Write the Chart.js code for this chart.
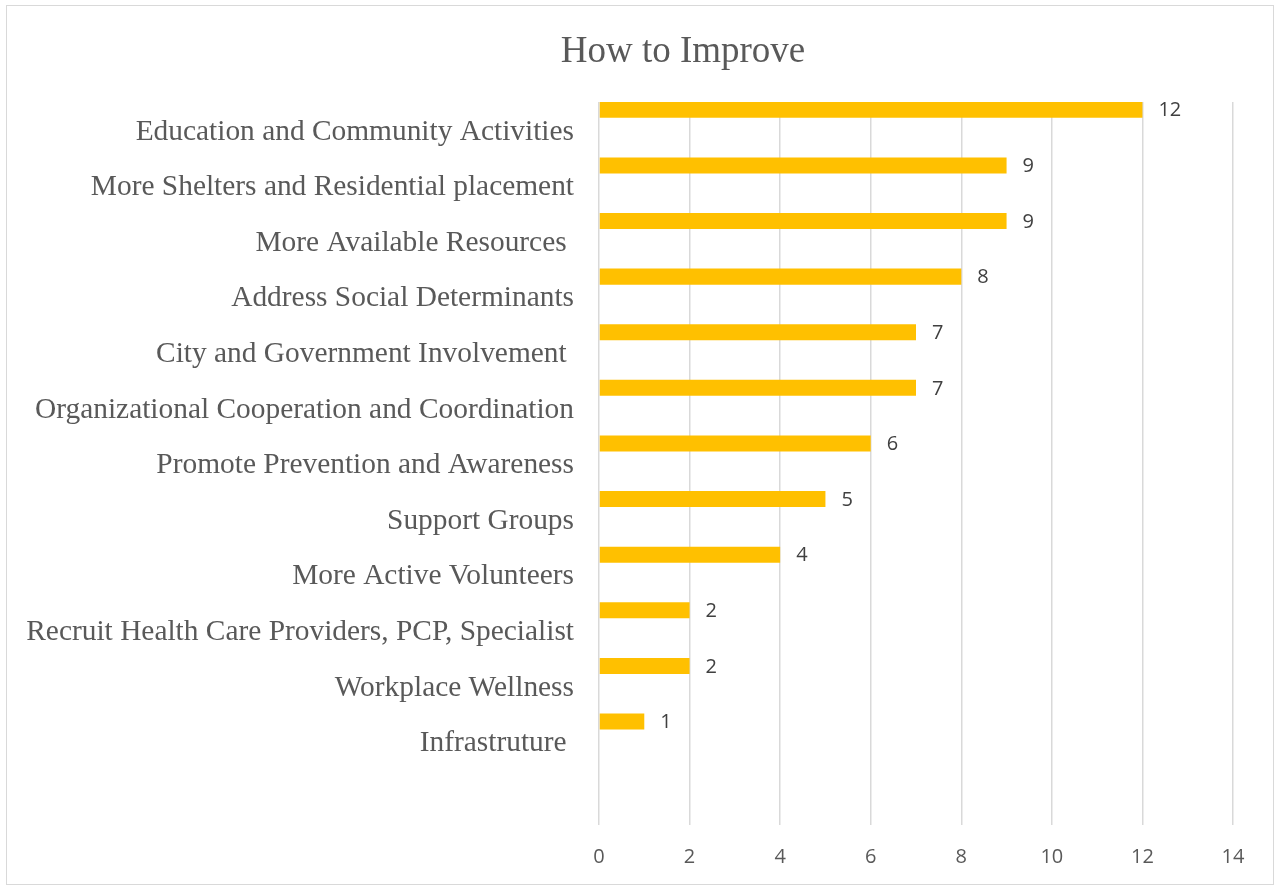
<!DOCTYPE html>
<html>
<head>
<meta charset="utf-8">
<script src="https://cdn.jsdelivr.net/npm/chart.js@4/dist/chart.umd.min.js"></script>
<style>
  html, body { margin: 0; padding: 0; background: #fff; }
  #wrap { position: relative; width: 1276px; height: 886px; }
  #frame { position: absolute; left: 6px; top: 5px; width: 1266px; height: 878px; border: 1px solid #d9d9d9; pointer-events: none; }
</style>
</head>
<body>
<div id="wrap">
  <canvas id="chart" width="1276" height="886"></canvas>
  <div id="frame"></div>
</div>
<script>
// chart data
const chartTitle = 'How to Improve';
const categories = [
  'Education and Community Activities',
  'More Shelters and Residential placement',
  'More Available Resources ',
  'Address Social Determinants',
  'City and Government Involvement ',
  'Organizational Cooperation and Coordination',
  'Promote Prevention and Awareness',
  'Support Groups',
  'More Active Volunteers',
  'Recruit Health Care Providers, PCP, Specialist',
  'Workplace Wellness',
  'Infrastruture '
];
const counts = [12, 9, 9, 8, 7, 7, 6, 5, 4, 2, 2, 1];
const xMin = 0;
const xMax = 14;
const xStep = 2;

// value labels next to each bar end
const valueLabels = {
  id: 'valueLabels',
  afterDatasetsDraw(chart) {
    const ctx = chart.ctx;
    const meta = chart.getDatasetMeta(0);
    ctx.save();
    ctx.font = '20px "Open Sans"';
    ctx.fillStyle = '#404040';
    ctx.textAlign = 'left';
    ctx.textBaseline = 'middle';
    meta.data.forEach((bar, i) => {
      if (counts[i] == null) return;
      ctx.fillText(String(counts[i]), bar.x + 16, bar.y + 1);
    });
    ctx.restore();
  }
};

// the title sits a bit right of the canvas centre in the original
const shiftTitle = {
  id: 'shiftTitle',
  afterLayout(chart) {
    const t = chart.titleBlock;
    if (t) { t.left += 133; }
  }
};

const ctx = document.getElementById('chart');
const chart = new Chart(ctx, {
  type: 'bar',
  data: {
    // an empty slot at the bottom, like the source sheet
    labels: [...categories, ''],
    datasets: [
      {
        label: 'Count',
        data: counts,
        backgroundColor: '#FFC000',
        categoryPercentage: 1.44,
        barPercentage: 0.4
      },
      {
        // empty second series, keeps the bars at the top of each band
        label: 'Series2',
        data: [],
        backgroundColor: '#FFC000',
        categoryPercentage: 1.44,
        barPercentage: 0.4
      }
    ]
  },
  options: {
    indexAxis: 'y',
    responsive: false,
    animation: false,
    layout: { padding: { left: 0, right: 43, top: 0, bottom: 0 } },
    plugins: {
      legend: { display: false },
      tooltip: { enabled: false },
      title: {
        display: true,
        text: chartTitle,
        color: '#595959',
        font: { family: '"Liberation Serif"', size: 37, weight: 'normal' },
        padding: { top: 30, bottom: 27.6 }
      }
    },
    scales: {
      x: {
        min: xMin,
        max: xMax,
        ticks: {
          stepSize: xStep,
          color: '#595959',
          font: { family: '"Open Sans"', size: 20 },
          padding: 20
        },
        grid: { color: '#d9d9d9', lineWidth: 1.5, drawTicks: false },
        border: { display: false },
        afterFit: (s) => { s.height = 61; }
      },
      y: {
        ticks: {
          color: '#595959',
          font: { family: '"Liberation Serif"', size: 29.4 },
          padding: 25,
          labelOffset: 2,
          autoSkip: false
        },
        grid: { display: false, drawTicks: false },
        border: { display: false },
        afterFit: (s) => { s.width = 599; }
      }
    }
  },
  plugins: [valueLabels, shiftTitle]
});
</script>
</body>
</html>
